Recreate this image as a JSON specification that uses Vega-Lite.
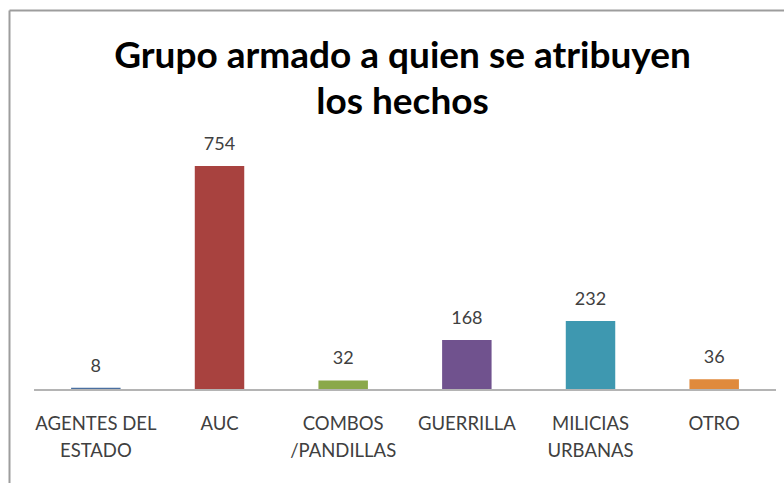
{
  "$schema": "https://vega.github.io/schema/vega-lite/v6.json",
  "autosize": "none",
  "padding": {"left": 9, "top": 10, "right": 0, "bottom": 0},
  "width": 775,
  "height": 473,
  "background": "white",
  "config": {"view": {"stroke": null}, "font": "Lato"},
  "title": {
    "text": ["Grupo armado a quien se atribuyen", "los hechos"],
    "font": "Lato",
    "fontSize": 37,
    "fontWeight": "bold",
    "color": "#000000",
    "lineHeight": 46,
    "anchor": "middle",
    "offset": -112,
    "dx": 6
  },
  "data": {
    "values": [
      {"grupo": "AGENTES DEL ESTADO", "valor": 8},
      {"grupo": "AUC", "valor": 754},
      {"grupo": "COMBOS /PANDILLAS", "valor": 32},
      {"grupo": "GUERRILLA", "valor": 168},
      {"grupo": "MILICIAS URBANAS", "valor": 232},
      {"grupo": "OTRO", "valor": 36}
    ]
  },
  "layer": [
    {
      "mark": {"type": "bar", "width": {"band": 0.4}},
      "encoding": {
        "x": {
          "field": "grupo", "type": "nominal", "sort": null,
          "scale": {"paddingInner": 0, "paddingOuter": 0.1334, "align": 0.758},
          "axis": {
            "orient": "bottom", "offset": -93, "title": null, "domain": false, "ticks": false,
            "labelAngle": 0, "labelFont": "Lato", "labelFontSize": 18.5, "labelColor": "#404040",
            "labelLineHeight": 27, "labelPadding": 24, "labelBaseline": "top", "labelOverlap": false,
            "labelExpr": "datum.label == 'AGENTES DEL ESTADO' ? ['AGENTES DEL', 'ESTADO'] : datum.label == 'COMBOS /PANDILLAS' ? ['COMBOS', '/PANDILLAS'] : datum.label == 'MILICIAS URBANAS' ? ['MILICIAS', 'URBANAS'] : datum.label"
          }
        },
        "y": {
          "field": "valor", "type": "quantitative",
          "scale": {"domain": [-313, 1279], "nice": false, "zero": false},
          "axis": {"orient": "left", "title": null, "labels": false, "ticks": false, "grid": false, "domainColor": "#9d9d9d", "domainWidth": 2}
        },
        "color": {
          "field": "grupo", "type": "nominal", "legend": null,
          "scale": {
            "domain": ["AGENTES DEL ESTADO", "AUC", "COMBOS /PANDILLAS", "GUERRILLA", "MILICIAS URBANAS", "OTRO"],
            "range": ["#4A6FA0", "#A8423F", "#8AA84A", "#70528E", "#3E98B0", "#E08A3C"]
          }
        }
      }
    },
    {
      "mark": {"type": "text", "baseline": "bottom", "dy": -12, "font": "Lato", "fontSize": 18, "color": "#404040"},
      "encoding": {
        "x": {"field": "grupo", "type": "nominal", "sort": null, "axis": null},
        "y": {
          "field": "valor", "type": "quantitative",
          "axis": {"orient": "left", "title": null, "labels": false, "ticks": false, "grid": false, "domainColor": "#9d9d9d", "domainWidth": 2}
        },
        "text": {"field": "valor", "type": "quantitative"}
      }
    },
    {
      "mark": {"type": "rule", "color": "#b5b5b5", "strokeWidth": 1.5},
      "encoding": {
        "x": {
          "datum": "AGENTES DEL ESTADO", "type": "nominal", "bandPosition": 0,
          "axis": {"orient": "top", "title": null, "labels": false, "ticks": false, "grid": false, "domainColor": "#9d9d9d", "domainWidth": 2}
        },
        "x2": {"datum": "OTRO", "bandPosition": 1},
        "y": {
          "datum": 0, "type": "quantitative",
          "axis": {"orient": "left", "title": null, "labels": false, "ticks": false, "grid": false, "domainColor": "#9d9d9d", "domainWidth": 2}
        }
      }
    }
  ],
  "resolve": {"axis": {"x": "independent"}}
}
